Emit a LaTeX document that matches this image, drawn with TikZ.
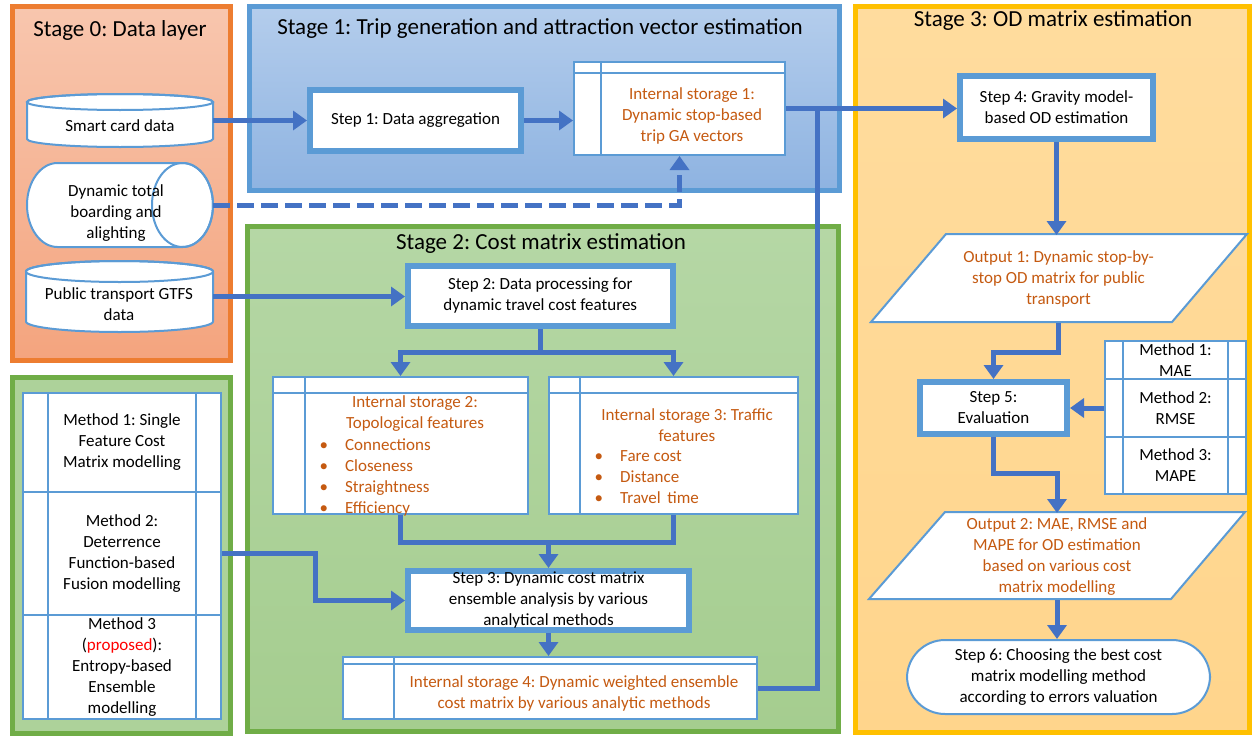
\documentclass[tikz,border=0pt]{standalone}
\usepackage{fontspec}
\setmainfont{Carlito}
\frenchspacing
\usetikzlibrary{arrows.meta}
\definecolor{arrowblue}{HTML}{4472C4}
\definecolor{bordblue}{HTML}{5B9BD5}
\definecolor{orng}{HTML}{ED7D31}
\definecolor{txtorange}{HTML}{C55A11}
\definecolor{grn}{HTML}{70AD47}
\definecolor{gold}{HTML}{FFC000}
\definecolor{sza}{HTML}{F8C6AE}
\definecolor{szb}{HTML}{F4A47E}
\definecolor{soa}{HTML}{B4CDEC}
\definecolor{sob}{HTML}{8EB3E1}
\definecolor{sta}{HTML}{B5D7A5}
\definecolor{stb}{HTML}{A5CD8F}
\definecolor{sha}{HTML}{FFDC9E}
\definecolor{shb}{HTML}{FFD58C}
\definecolor{mfill}{HTML}{ADD29A}
\begin{document}
\frenchspacing
\begin{tikzpicture}[x=1pt,y=-1pt,
  txt/.style={font=\fontsize{17}{21}\selectfont\frenchspacing, align=center},
  otxt/.style={txt, text=txtorange},
  ttl/.style={font=\fontsize{23}{26}\selectfont\frenchspacing, inner sep=0pt},
  stage/.style={line width=5pt, inner sep=0pt},
  stepbox/.style={draw=bordblue, line width=6pt, fill=white, inner sep=0pt, txt},
  thinb/.style={draw=bordblue, line width=2pt},
  hole/.style={inner sep=0pt, outer sep=0pt},
  arr/.style={draw=arrowblue, line width=5pt, -{Triangle[width=19pt,length=14pt]}},
  conn/.style={draw=arrowblue, line width=5pt},
  store/.style n args={2}{draw=bordblue, line width=2pt, fill=white, inner sep=0pt,
    path picture={
      \draw[bordblue, line width=2pt] ([yshift=-#1]path picture bounding box.north west) -- ([yshift=-#1]path picture bounding box.north east);
      \draw[bordblue, line width=2pt] ([xshift=#2]path picture bounding box.north west) -- ([xshift=#2]path picture bounding box.south west);}},
  mrow/.style={draw=bordblue, line width=2pt, fill=white, inner sep=0pt, txt,
    path picture={
      \draw[bordblue, line width=2pt] ([xshift=#1]path picture bounding box.north west) -- ([xshift=#1]path picture bounding box.south west);
      \draw[bordblue, line width=2pt] ([xshift=-#1]path picture bounding box.north east) -- ([xshift=-#1]path picture bounding box.south east);}}
]
\useasboundingbox (0,0) rectangle (1252,736);
\fill[white] (0,0) rectangle (1252,736);

% stage containers
\node[stage, draw=orng, top color=sza, bottom color=szb, minimum width=218.5pt, minimum height=353.5pt] (stage0) at (121.25,183.25) {};
\node[stage, draw=bordblue, top color=soa, bottom color=sob, minimum width=590pt, minimum height=184pt] (stage1) at (544,98.5) {};
\node[stage, draw=grn, top color=sta, bottom color=stb, minimum width=591.5pt, minimum height=505pt] (stage2) at (542.75,479) {};
\node[stage, draw=gold, top color=sha, bottom color=shb, minimum width=394.5pt, minimum height=726.5pt] (stage3) at (1052.25,369.25) {};
\node[stage, draw=grn, fill=mfill, minimum width=218.5pt, minimum height=356pt] (methods) at (121.25,555) {};

\node[ttl] (t0) at (120,30) {Stage 0: Data layer};
\node[ttl] (t1) at (540,28) {Stage 1: Trip generation and attraction vector estimation};
\node[ttl] (t2) at (541,244) {Stage 2: Cost matrix estimation};
\node[ttl] (t3) at (1053,21) {Stage 3: OD matrix estimation};

% cylinders
\path[thinb, fill=white] (27,102) -- (27,139) arc[start angle=180, end angle=0, x radius=93, y radius=8] -- (213,102) arc[start angle=0, end angle=-180, x radius=93, y radius=8] -- cycle;
\draw[thinb] (120,102) ellipse [x radius=93, y radius=8];
\node[hole, minimum width=186pt, minimum height=53pt] (smart) at (120,120.5) {};
\node[txt] (smarttxt) at (120,126) {Smart card data};

\path[thinb, fill=white] (182.5,163) -- (57.5,163) arc[start angle=270, end angle=90, x radius=30.5, y radius=42] -- (182.5,247) arc[start angle=90, end angle=-90, x radius=30.5, y radius=42] -- cycle;
\draw[thinb] (182.5,205) ellipse [x radius=30.5, y radius=42];
\node[hole, minimum width=186pt, minimum height=84pt] (dyn) at (120,205) {};
\node[txt] (dyntxt) at (116,213) {Dynamic total\\boarding and\\alighting};

\path[thinb, fill=white] (26,271.5) -- (26,321.5) arc[start angle=180, end angle=0, x radius=93.5, y radius=10.5] -- (213,271.5) arc[start angle=0, end angle=-180, x radius=93.5, y radius=10.5] -- cycle;
\draw[thinb] (119.5,271.5) ellipse [x radius=93.5, y radius=10.5];
\node[hole, minimum width=187pt, minimum height=71pt] (gtfs) at (119.5,296.5) {};
\node[txt] (gtfstxt) at (119,304) {Public transport GTFS\\data};

% stage 1
\node[stepbox, minimum width=211pt, minimum height=61pt] (step1) at (415.5,120.5) {\raisebox{-2pt}{Step 1: Data aggregation}};
\node[store={11pt}{26.5pt}, minimum width=211pt, minimum height=93pt] (is1box) at (679.5,108.5) {};
\node[otxt] (is1) at (692,116) {Internal storage 1:\\Dynamic stop-based\\trip GA vectors};

% stage 2
\node[stepbox, minimum width=264.5pt, minimum height=60pt] (step2) at (540.25,296) {Step 2: Data processing for\\dynamic travel cost features};
\node[store={16pt}{32pt}, minimum width=255pt, minimum height=137pt] (is2box) at (400.5,445.5) {};
\node[otxt] (is2) at (415,414) {Internal storage 2:\\Topological features};
\node[otxt, align=left, anchor=west, inner sep=0pt] (is2list) at (319.5,477) {\makebox[25.5pt][l]{\textbullet}Connections\\\makebox[25.5pt][l]{\textbullet}Closeness\\\makebox[25.5pt][l]{\textbullet}Straightness\\\makebox[25.5pt][l]{\textbullet}Efficiency};
\node[store={16pt}{31pt}, minimum width=249pt, minimum height=137pt] (is3box) at (673.5,445.5) {};
\node[otxt] (is3) at (687,425) {Internal storage 3: Traffic\\features};
\node[otxt, align=left, anchor=west, inner sep=0pt] (is3list) at (594.5,477.5) {\makebox[25.5pt][l]{\textbullet}Fare cost\\\makebox[25.5pt][l]{\textbullet}Distance\\\makebox[25.5pt][l]{\textbullet}Travel\ \,time};
\node[stepbox, minimum width=281pt, minimum height=59pt] (step3) at (548.5,600.5) {Step 3: Dynamic cost matrix\\ensemble analysis by various\\analytical methods};
\node[store={7pt}{51pt}, minimum width=414pt, minimum height=62pt] (is4box) at (550,688) {};
\node[otxt] (is4) at (574,693) {Internal storage 4: Dynamic weighted ensemble\\cost matrix by various analytic methods};

% methods (left)
\node[mrow=25pt, minimum width=198pt, minimum height=99pt] (m1) at (122,442.5) {Method 1: Single\\Feature Cost\\Matrix modelling};
\node[mrow=25pt, minimum width=198pt, minimum height=123pt] (m2) at (122,553.5) {Method 2:\\Deterrence\\Function-based\\Fusion modelling};
\node[mrow=25pt, minimum width=198pt, minimum height=104pt] (m3) at (122,667) {Method 3\\(\textcolor{red}{proposed}):\\Entropy-based\\Ensemble\\modelling};

% stage 3
\node[stepbox, minimum width=193pt, minimum height=63pt] (step4) at (1056.5,107.5) {Step 4: Gravity model-\\based OD estimation};
\path[thinb, fill=white] (946,234) -- (1247,234) -- (1172,322) -- (871,322) -- cycle;
\node[otxt, hole, minimum width=300pt, minimum height=88pt] (out1) at (1058.5,279) {Output 1: Dynamic stop-by-\\stop OD matrix for public\\transport};
\node[stepbox, minimum width=147pt, minimum height=52pt] (step5) at (993.5,408) {Step 5:\\Evaluation};
\node[mrow=18pt, minimum width=141pt, minimum height=38pt] (r1) at (1175.5,360) {Method 1:\\MAE};
\node[mrow=18pt, minimum width=141pt, minimum height=58pt] (r2) at (1175.5,408) {Method 2:\\RMSE};
\node[mrow=18pt, minimum width=141pt, minimum height=57pt] (r3) at (1175.5,465.5) {Method 3:\\MAPE};
\path[thinb, fill=white] (945,512) -- (1245,512) -- (1171,599) -- (869,599) -- cycle;
\node[otxt, hole, minimum width=300pt, minimum height=87pt] (out2) at (1057,556.5) {Output 2: MAE, RMSE and\\MAPE for OD estimation\\based on various cost\\matrix modelling};
\node[thinb, fill=white, rounded corners=38pt, txt, inner sep=0pt, minimum width=303pt, minimum height=74pt] (step6) at (1058.5,677) {Step 6: Choosing the best cost\\matrix modelling method\\according to errors valuation};

% connectors
\coordinate (split) at (540.25,352);
\coordinate (merge) at (548.5,542);
\coordinate (join) at (817,108.5);
\draw[arr] (smart.east) -- (smart.east -| step1.west);
\draw[arr] (step1.east) -- (step1.east -| is1box.west);
\draw[arr, dash pattern=on 17pt off 7pt] (dyn.east) -| (is1box.south);
\draw[arr] (is1box.east) -- (is1box.east -| step4.west);
\draw[conn] (is4box.east) -| (join);
\draw[arr] (gtfs.east) -- (gtfs.east -| step2.west);
\draw[conn] (step2.south) -- (split);
\draw[arr] (split) -| (is2box.north);
\draw[arr] (split) -| (is3box.north);
\draw[conn] (is2box.south) |- (merge);
\draw[conn] (is3box.south) |- (merge);
\draw[arr] (merge) -- (step3.north);
\draw[arr] (m2.east) -- ++(93,0) |- (step3.west);
\draw[arr] (step3.south) -- (step3.south |- is4box.north);
\draw[arr] (step4.south) -- (step4.south |- out1.north);
\draw[arr] (out1.south) -- ++(0,29) -| (step5.north);
\draw[arr] (r2.west) -- (step5.east);
\draw[arr] (step5.south) -- ++(0,36) -| (out2.north);
\draw[arr] (out2.south) -- (out2.south |- step6.north);
\end{tikzpicture}
\end{document}
